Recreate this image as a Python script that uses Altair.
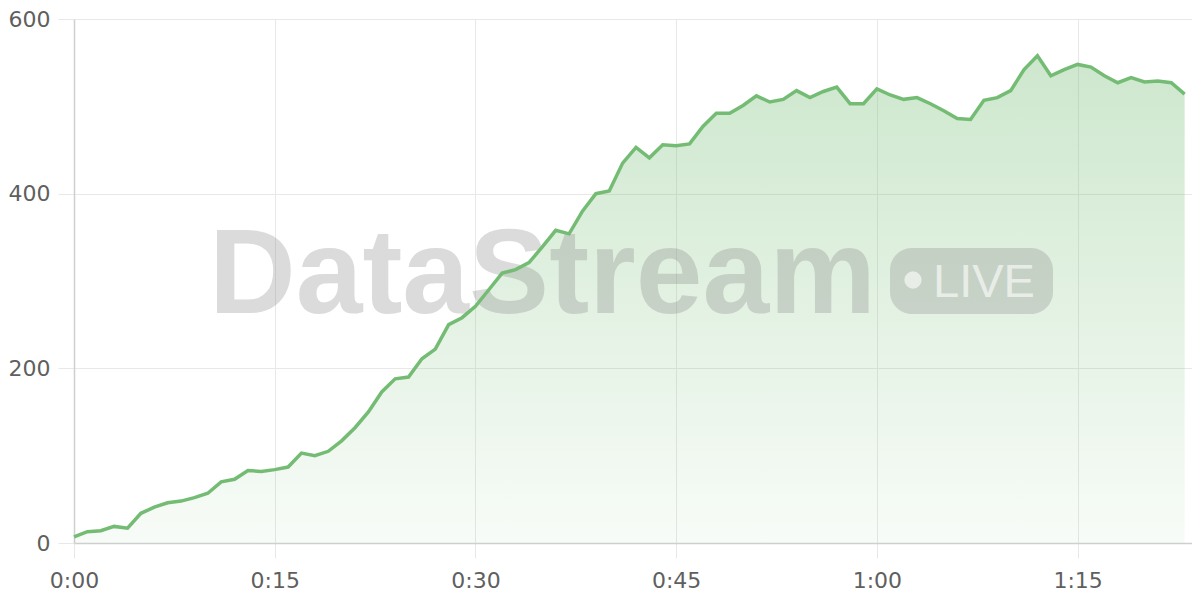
import altair as alt
import pandas as pd

minutes = list(range(84))
values = [7, 13, 14, 19, 17, 34, 41, 46, 48, 52, 57, 70, 73, 83, 82, 84, 87, 103, 100, 105,
          117, 132, 150, 173, 188, 190, 211, 222, 250, 258, 271, 290, 309, 313, 321, 339, 358, 354, 380, 400,
          403, 435, 453, 441, 456, 455, 457, 477, 492, 492, 501, 512, 505, 508, 518, 510, 517, 522, 503, 503,
          520, 513, 508, 510, 503, 495, 486, 485, 507, 510, 518, 542, 558, 535, 542, 548, 545, 535, 527, 533,
          528, 529, 527, 514]
x_ticks = [0, 15, 30, 45, 60, 75]
y_ticks = [0, 200, 400, 600]
watermark = "DataStream"
badge_text = "LIVE"

df = pd.DataFrame({"t": minutes, "v": values})
one = pd.DataFrame({"k": [0]})

LINE = "#74bc74"

x_enc = alt.X("t:Q", scale=alt.Scale(domain=[0, 83.55], nice=False, zero=False),
              axis=alt.Axis(values=x_ticks, title=None, labelFlush=False, labelPadding=12,
                            labelExpr="floor(datum.value/60) + ':' + (datum.value % 60 < 10 ? '0' : '') + (datum.value % 60)"))
y_enc = alt.Y("v:Q", scale=alt.Scale(domain=[0, 600], nice=False),
              axis=alt.Axis(values=y_ticks, title=None, labelFlush=False))

area = alt.Chart(df).mark_area(
    color=alt.Gradient(
        gradient="linear", x1=1, x2=1, y1=1, y2=0,
        stops=[alt.GradientStop(color="rgba(116,188,116,0.05)", offset=0),
               alt.GradientStop(color="rgba(116,188,116,0.36)", offset=1)]),
    interpolate="linear",
).encode(x=x_enc, y=y_enc)

wm_text = alt.Chart(one).mark_text(
    text=watermark, font="Liberation Sans", fontWeight="bold", fontSize=120,
    align="left", baseline="alphabetic", color="#808080", opacity=0.28,
).encode(x=alt.value(135), y=alt.value(294))

badge = alt.Chart(one).mark_rect(
    color="#808080", opacity=0.28, cornerRadius=22,
).encode(x=alt.value(816), x2=alt.value(979), y=alt.value(229), y2=alt.value(295))

dot = alt.Chart(one).mark_circle(
    color="#ffffff", opacity=0.6, size=300,
).encode(x=alt.value(839), y=alt.value(261))

live = alt.Chart(one).mark_text(
    text=badge_text, font="Liberation Sans", fontSize=47,
    align="left", baseline="alphabetic", color="#ffffff", opacity=0.6,
).encode(x=alt.value(859), y=alt.value(278))

line = alt.Chart(df).mark_line(color=LINE, strokeWidth=3.5, interpolate="linear").encode(x=x_enc, y=y_enc)

chart = alt.layer(area, wm_text, badge, dot, live, line).properties(
    width=1118, height=524,
    autosize=alt.AutoSizeParams(type="none"),
    padding={"left": 66, "top": 11, "right": 0, "bottom": 50},
).configure_view(stroke=None).configure_axis(
    labelFont="DejaVu Sans", labelFontSize=22, labelColor="#5f5f5f",
    gridColor="#e8e8e8", gridWidth=1,
    domainColor="#cfcfcf", domainWidth=1.5,
    tickColor="#e8e8e8", tickSize=15, tickWidth=1,
).configure_axisY(tickSize=16, labelPadding=8)

chart.save("out.html", embed_options={"renderer": "svg", "actions": False})
